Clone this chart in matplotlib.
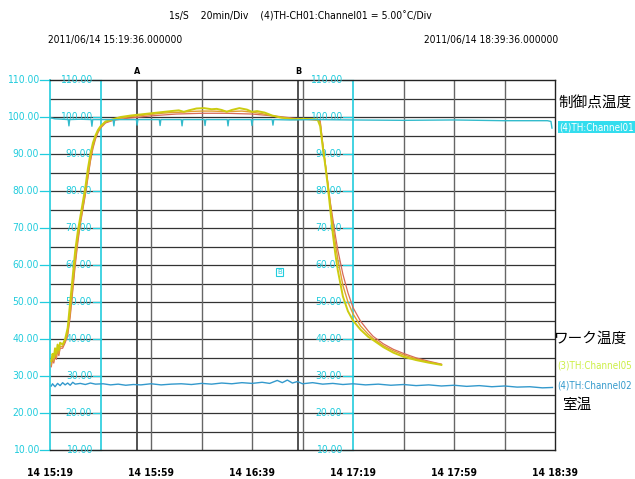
import matplotlib.pyplot as plt
from matplotlib import font_manager

# time axis: minutes after 2011/06/14 15:19:36
t_start, t_end = 0, 200
y_min, y_max = 10, 110

# (4) TH:Channel01 - control point temperature
ctrl_t = [0, 2, 5, 7.2, 7.5, 7.8, 12, 16.3, 16.6, 16.9, 21, 25.0, 25.3, 25.6, 30, 34.2, 34.5,
          34.8, 40, 43.3, 43.6, 43.9, 48, 52.0, 52.3, 52.6, 57, 61.1, 61.4, 61.7, 66, 70.2, 70.5,
          70.8, 75, 79.7, 80.0, 80.3, 84, 88.0, 88.3, 88.6, 95, 105, 120, 140, 160, 180, 197,
          198.4, 198.8]
ctrl_v = [99.8, 99.5, 99.4, 99.3, 97.6, 99.3, 99.4, 99.3, 97.5, 99.3, 99.3, 99.3, 97.6, 99.3,
          99.3, 99.3, 97.8, 99.3, 99.3, 99.3, 97.7, 99.3, 99.3, 99.3, 97.6, 99.3, 99.3, 99.3,
          97.7, 99.3, 99.3, 99.3, 97.6, 99.3, 99.3, 99.3, 97.7, 99.3, 99.3, 99.3, 97.8, 99.3,
          99.2, 99.3, 99.2, 99.1, 99.2, 99.0, 99.0, 98.8, 97.0]

# (3) TH:Channel05 - work temperature (yellow)
work_y_t = [0.5, 1, 1.5, 2, 2.5, 3, 3.5, 4, 5, 6, 7, 8, 9, 10, 11, 12, 13, 14, 15, 16, 17, 18,
            19, 20, 22, 25, 28, 32, 36, 40, 44, 48, 51, 53, 55, 58, 61, 64, 66, 68, 70, 72, 75,
            78, 80, 82, 85, 88, 91, 94, 97, 100, 104, 106, 107, 108, 109, 110, 111, 112, 113,
            114, 116, 118, 120, 123, 126, 128, 132, 136, 140, 145, 150, 155]
work_y_v = [34, 36, 35, 37.5, 36, 38.5, 37, 39, 38.5, 40, 43, 50, 57, 64, 69, 73, 77, 81, 86,
            90, 93, 95, 96.5, 97.5, 98.8, 99.4, 100.0, 100.4, 100.7, 101.0, 101.3, 101.6, 101.8,
            101.4, 101.8, 102.3, 102.4, 102.1, 102.2, 101.9, 101.4, 101.9, 102.4, 102.0, 101.4,
            101.6, 101.2, 100.4, 99.9, 99.6, 99.4, 99.5, 99.4, 99.3, 97.5, 92, 87, 81.5, 75,
            68.5, 63, 58.5, 51.5, 47.5, 45, 42.5, 40.6, 39.7, 37.8, 36.3, 35.2, 34.3, 33.6, 33.0]

# work temperature (orange)
work_o_t = [0.5, 1, 1.5, 2, 2.5, 3, 3.5, 4, 5, 6, 7, 8, 9, 10, 11, 12, 13, 14, 15, 16, 17, 18,
            19, 20, 22, 25, 28, 32, 36, 40, 44, 48, 52, 56, 60, 64, 68, 72, 76, 80, 84, 88, 92,
            96, 100, 104, 106, 107, 108, 109, 110, 111, 112, 113, 114, 116, 118, 120, 123, 126,
            128, 132, 136, 140, 145, 150, 155]
work_o_v = [33, 35.5, 34, 36.5, 35, 37.5, 36, 38, 38, 39.5, 41.5, 47, 54, 61, 67, 71.5, 75.5,
            79.5, 84, 88.5, 92, 94.5, 96, 97.2, 98.6, 99.2, 99.7, 100.1, 100.4, 100.7, 101.0,
            101.2, 101.3, 101.5, 101.6, 101.6, 101.5, 101.5, 101.6, 101.3, 100.9, 100.3, 99.8,
            99.5, 99.4, 99.3, 99.2, 98.5, 92.5, 87.5, 82, 76.5, 71, 66, 61.5, 54.5, 50, 46.8,
            43.5, 41.3, 40.1, 38.2, 36.8, 35.7, 34.6, 33.8, 33.1]

# work temperature (red)
work_r_t = [0.5, 1, 1.5, 2, 2.5, 3, 3.5, 4, 5, 6, 7, 8, 9, 10, 11, 12, 13, 14, 15, 16, 17, 18,
            19, 20, 22, 25, 30, 40, 50, 60, 70, 80, 90, 100, 104, 106, 107, 108, 109, 110, 111,
            112, 113, 114, 116, 118, 120, 123, 126, 128, 132, 136, 140, 145, 150, 155]
work_r_v = [32.5, 34.5, 33.5, 35.5, 34.5, 37, 35.5, 37.5, 37.5, 39, 41, 46, 53, 60, 66, 71,
            75, 79, 83.5, 88, 91.5, 94, 95.8, 97, 98.4, 99.1, 99.6, 100.3, 100.8, 101.0, 101.0,
            100.8, 100.2, 99.4, 99.3, 99.2, 99.0, 93, 87.5, 82.5, 77, 72.5, 68, 64, 57.5, 52.5,
            48.5, 44.8, 42.2, 40.7, 38.7, 37.2, 36.1, 34.9, 34.0, 33.2]

# (4) TH:Channel02 - room temperature
room_t = [0.5, 1, 2, 3, 4, 5, 6, 7, 8, 9, 10, 12, 14, 16, 18, 21, 24, 27, 30, 33, 36, 40, 44,
          48, 52, 56, 60, 64, 68, 72, 76, 80, 84, 87, 90, 92, 94, 96, 98, 100, 104, 108, 112,
          116, 120, 125, 130, 135, 140, 145, 150, 155, 160, 165, 170, 175, 180, 185, 190, 195,
          199]
room_v = [27.3, 27.9, 27.1, 28.0, 27.4, 28.2, 27.6, 28.1, 27.5, 28.3, 27.8, 28.0, 27.7, 28.1,
          27.8, 27.9, 27.6, 27.8, 27.5, 27.7, 27.6, 27.9, 27.6, 27.8, 27.9, 27.7, 28.0, 27.8,
          28.1, 27.9, 28.2, 28.0, 28.3, 28.0, 28.8, 28.2, 28.9, 28.1, 28.5, 27.9, 28.2, 27.8,
          28.0, 27.7, 27.9, 27.6, 27.8, 27.5, 27.7, 27.4, 27.6, 27.3, 27.5, 27.2, 27.4, 27.1,
          27.3, 27.0, 27.1, 26.8, 26.9]

scale_labels = ['10.00', '20.00', '30.00', '40.00', '50.00', '60.00', '70.00', '80.00',
                '90.00', '100.00', '110.00']
scale_values = [10, 20, 30, 40, 50, 60, 70, 80, 90, 100, 110]
time_ticks = [0, 40, 80, 120, 160, 200]
time_labels = ['14 15:19', '14 15:59', '14 16:39', '14 17:19', '14 17:59', '14 18:39']
cursor_a, cursor_b = 34.5, 98.2

CYAN = '#22CCDD'
installed = {f.name for f in font_manager.fontManager.ttflist}
if 'Liberation Sans Narrow' in installed:
    cond = dict(family='Liberation Sans Narrow')
else:
    cond = dict(family='DejaVu Sans', stretch='condensed')
jp = ['Noto Sans CJK JP', 'DejaVu Sans']

fig = plt.figure(figsize=(6.35, 4.79), dpi=100)
ax = fig.add_axes([50 / 635, 1 - 450 / 479, 505 / 635, 370 / 479])
ax.set_xlim(t_start, t_end)
ax.set_ylim(y_min, y_max)
ax.set_xticks([])
ax.set_yticks([])
for s in ['top', 'bottom', 'right']:
    ax.spines[s].set_color('#222222')
    ax.spines[s].set_linewidth(1.0)
ax.spines['left'].set_color(CYAN)
ax.spines['left'].set_linewidth(1.2)

# grid
for y in range(15, 110, 5):
    ax.axhline(y, color='#333333', lw=0.9, zorder=1)
for x in range(20, 200, 20):
    if x in (20, 120):
        ax.axvline(x, color=CYAN, lw=1.2, zorder=1)
    else:
        ax.axvline(x, color='#666666', lw=1.0, zorder=1)
for c, name in ((cursor_a, 'A'), (cursor_b, 'B')):
    ax.axvline(c, color='#444444', lw=1.3, zorder=1)
    ax.text(c, 111.0, name, ha='center', va='bottom', fontsize=6.5, fontweight='bold', **cond)

# scale columns
for x_lab, x_tick in ((-4, 0), (17, 20), (116, 120)):
    for v, lab in zip(scale_values, scale_labels):
        ax.plot([x_lab, x_tick], [v, v], color=CYAN, lw=0.9, clip_on=False, zorder=2)
        ax.text(x_lab - 0.3, v, lab, color=CYAN, fontsize=7.5, ha='right', va='center',
                clip_on=False, zorder=3, **cond)

# traces
ax.plot(room_t, room_v, color='#3399CC', lw=1.0, zorder=4)
ax.plot(work_r_t, work_r_v, color='#D86A5A', lw=0.9, zorder=4)
ax.plot(work_o_t, work_o_v, color='#E0A030', lw=1.0, zorder=5)
ax.plot(work_y_t, work_y_v, color='#CCCC10', lw=1.4, zorder=6)
ax.plot(ctrl_t, ctrl_v, color='#33BBCC', lw=1.0, zorder=7)

ax.text(91, 58.1, 'B', color=CYAN, fontsize=5, ha='center', va='center', zorder=8,
        bbox=dict(boxstyle='square,pad=0.15', fc='white', ec=CYAN, lw=0.8))

# time labels
for t, lab in zip(time_ticks, time_labels):
    ax.text(t, 3.8, lab, ha='center', va='center', fontsize=7.5, fontweight='bold',
            clip_on=False, **cond)

# header
fig.text(300 / 635, 1 - 16 / 479,
         '1s/S    20min/Div    (4)TH-CH01:Channel01 = 5.00\u02daC/Div',
         ha='center', va='center', fontsize=7.5, **cond)
fig.text(48 / 635, 1 - 40 / 479, '2011/06/14 15:19:36.000000', ha='left', va='center',
         fontsize=7.3, **cond)
fig.text(558 / 635, 1 - 40 / 479, '2011/06/14 18:39:36.000000', ha='right', va='center',
         fontsize=7.3, **cond)

# right side labels
fig.text(558 / 635, 1 - 103 / 479, '制御点温度', fontsize=10.5, ha='left', va='center', family=jp)
fig.text(559 / 635, 1 - 127 / 479, '(4)TH:Channel01', fontsize=7, ha='left', va='center',
         color='white', bbox=dict(boxstyle='square,pad=0.15', fc='#33DDEE', ec='none'), **cond)
fig.text(553 / 635, 1 - 339 / 479, 'ワーク温度', fontsize=10.5, ha='left', va='center', family=jp)
fig.text(557 / 635, 1 - 366 / 479, '(3)TH:Channel05', fontsize=7, ha='left', va='center',
         color='#CCEE44', **cond)
fig.text(557 / 635, 1 - 386 / 479, '(4)TH:Channel02', fontsize=7, ha='left', va='center',
         color='#3399CC', **cond)
fig.text(562 / 635, 1 - 405 / 479, '室温', fontsize=10.5, ha='left', va='center', family=jp)

fig.savefig('out.png', dpi=100)
